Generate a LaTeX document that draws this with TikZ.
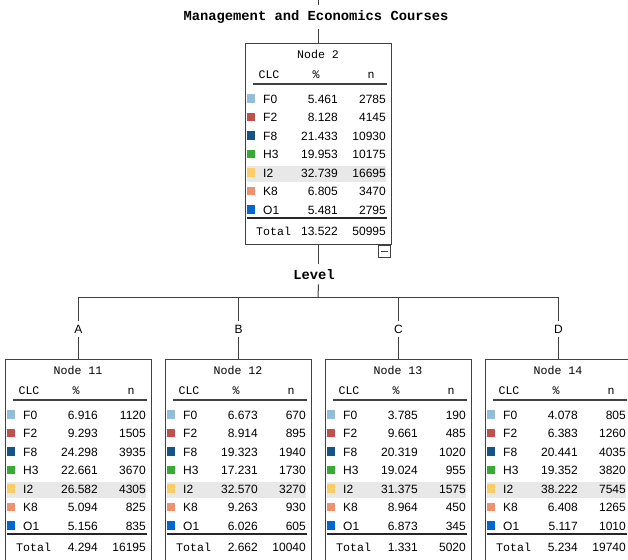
\documentclass[tikz,border=0pt]{standalone}
\usepackage{fontspec}
\setmainfont{Liberation Sans}
\newfontfamily\monof{Liberation Mono}
\definecolor{cF0}{RGB}{148,190,214}
\definecolor{cF2}{RGB}{192,80,80}
\definecolor{cF8}{RGB}{22,84,134}
\definecolor{cH3}{RGB}{55,172,52}
\definecolor{cI2}{RGB}{255,204,102}
\definecolor{cK8}{RGB}{238,145,112}
\definecolor{cO1}{RGB}{0,102,210}
\definecolor{linec}{RGB}{64,64,64}
\definecolor{rowhl}{RGB}{232,232,232}
\tikzset{
 treebox/.style={draw=linec, line width=1pt, minimum width=146pt, minimum height=201pt, anchor=north west, inner sep=0pt},
 txt/.style={inner sep=0pt, font=\fontsize{12}{14}\selectfont},
 mtxt/.style={inner sep=0pt, font=\monof\fontsize{11.6}{13}\selectfont},
 btxt/.style={inner xsep=1pt, inner ysep=5pt, font=\monof\bfseries\fontsize{13.8}{16}\selectfont},
 lbl/.style={inner xsep=1pt, inner ysep=4pt, font=\fontsize{12}{14}\selectfont},
 swatch/.style={inner sep=0pt, minimum size=8.5pt, anchor=center},
 conn/.style={draw=linec, line width=1pt},
 hrule/.style={draw=linec, line width=1.5pt},
 trule/.style={draw=black!85, line width=1.8pt},
}
\newcommand\treetable[7]{%
\begin{scope}[shift={(#2,#3)}]
 \fill[rowhl] (2,123) rectangle (141,138.5);
 \node[treebox] (#1) at (0,0) {};
 \node[mtxt, anchor=base] (#1-ttl) at (73,15.5) {#4};
 \node[mtxt, anchor=base] (#1-hc) at (24,35.5) {CLC};
 \node[mtxt, anchor=base] (#1-hp) at (71,35.5) {\%};
 \node[mtxt, anchor=base] (#1-hn) at (126,35.5) {n};
 \draw[hrule] (8,41) -- (142,41);
 \foreach \cc/\lab/\pp/\nn [count=\i from 0] in {#5} {
   \node[swatch, fill=\cc] (#1-s\i) at (6, 55.5+18.5*\i) {};
   \node[txt, anchor=base west] (#1-l\i) at (18, 60.3+18.5*\i) {\lab};
   \node[txt, anchor=base east] (#1-p\i) at (93, 60.3+18.5*\i) {\pp};
   \node[txt, anchor=base east] (#1-n\i) at (141, 60.3+18.5*\i) {\nn};
 }
 \draw[trule] (2,175) -- (142,175);
 \node[mtxt, anchor=base west] (#1-tl) at (11,192.5) {Total};
 \node[txt, anchor=base east] (#1-tp) at (93,192.5) {#6};
 \node[txt, anchor=base east] (#1-tn) at (141,192.5) {#7};
\end{scope}}
\begin{document}
\begin{tikzpicture}[x=1pt,y=-1pt]
\useasboundingbox (0,0) rectangle (628,559);
\fill[white] (0,0) rectangle (628,559);
\clip (0,0) rectangle (628,559);
% root
\coordinate (top) at (318,0);
\node[btxt, anchor=base] (ttl) at (316,20.7) {Management and Economics Courses};
\treetable{n2}{245}{43}{Node 2}{cF0/F0/5.461/2785,cF2/F2/8.128/4145,cF8/F8/21.433/10930,cH3/H3/19.953/10175,cI2/I2/32.739/16695,cK8/K8/6.805/3470,cO1/O1/5.481/2795}{13.522}{50995}
\node[draw=linec, line width=1pt, fill=white, minimum size=12pt, inner sep=0pt] (n2c) at (384.5,251) {};
\draw[draw=linec, line width=1pt] ([xshift=-3.5pt]n2c.center) -- ([xshift=3.5pt]n2c.center);
\node[btxt, anchor=base] (lv) at (314,279) {Level};
\coordinate (bar) at (318,297);
% children
\treetable{n11}{5}{359}{Node 11}{cF0/F0/6.916/1120,cF2/F2/9.293/1505,cF8/F8/24.298/3935,cH3/H3/22.661/3670,cI2/I2/26.582/4305,cK8/K8/5.094/825,cO1/O1/5.156/835}{4.294}{16195}
\treetable{n12}{165}{359}{Node 12}{cF0/F0/6.673/670,cF2/F2/8.914/895,cF8/F8/19.323/1940,cH3/H3/17.231/1730,cI2/I2/32.570/3270,cK8/K8/9.263/930,cO1/O1/6.026/605}{2.662}{10040}
\treetable{n13}{325}{359}{Node 13}{cF0/F0/3.785/190,cF2/F2/9.661/485,cF8/F8/20.319/1020,cH3/H3/19.024/955,cI2/I2/31.375/1575,cK8/K8/8.964/450,cO1/O1/6.873/345}{1.331}{5020}
\treetable{n14}{485}{359}{Node 14}{cF0/F0/4.078/805,cF2/F2/6.383/1260,cF8/F8/20.441/4035,cH3/H3/19.352/3820,cI2/I2/38.222/7545,cK8/K8/6.408/1265,cO1/O1/5.117/1010}{5.234}{19740}
\node[lbl] (la) at (n11.north |- 0,329) {A};
\node[lbl] (lb) at (n12.north |- 0,329) {B};
\node[lbl] (lc) at (n13.north |- 0,329) {C};
\node[lbl] (ld) at (n14.north |- 0,329) {D};
% connectors
\draw[conn] (top) -- (top |- ttl.north);
\draw[conn] (n2.north |- ttl.south) -- (n2.north);
\draw[conn] (n2.south) -- (n2.south |- lv.north);
\draw[conn] (n2.south |- lv.south) -- (bar);
\draw[conn] (la.north |- bar) -- (ld.north |- bar);
\foreach \k/\l in {n11/la,n12/lb,n13/lc,n14/ld} {
  \draw[conn] (\l.north |- bar) -- (\l.north);
  \draw[conn] (\l.south) -- (\k.north);
}
\end{tikzpicture}
\end{document}
